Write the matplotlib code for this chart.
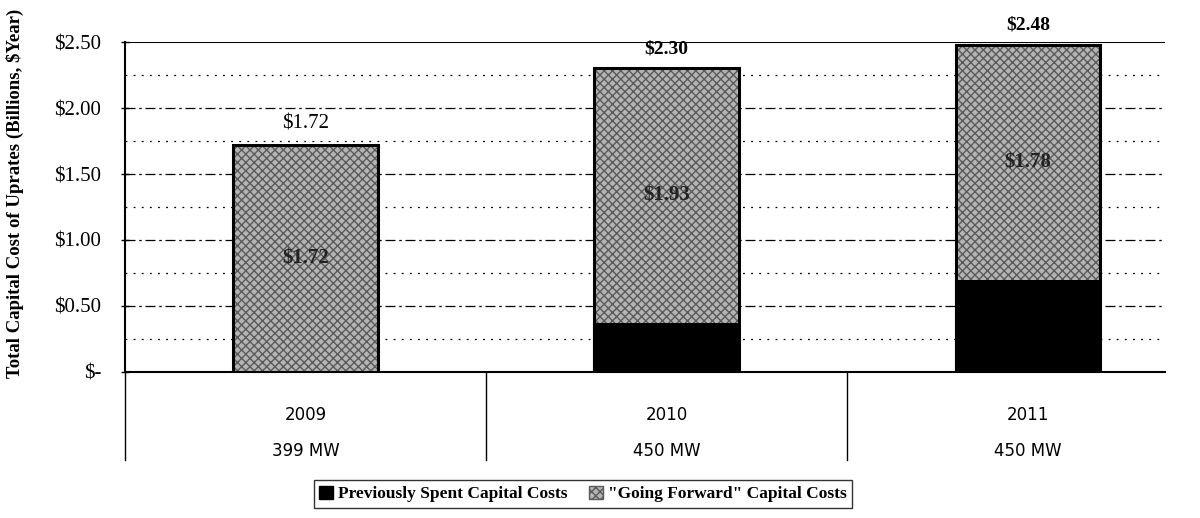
import matplotlib
matplotlib.use("Agg")
import matplotlib.pyplot as plt
from matplotlib.patches import Patch

plt.rcParams['font.family'] = ['Liberation Serif', 'DejaVu Serif']

years = ["2009", "2010", "2011"]
capacity = ["399 MW", "450 MW", "450 MW"]
spent = [0.0, 0.37, 0.70]
forward = [1.72, 1.93, 1.78]
totals = [1.72, 2.30, 2.48]
yticks = [0, 0.5, 1.0, 1.5, 2.0, 2.5]
ytick_labels = ["$-", "$0.50", "$1.00", "$1.50", "$2.00", "$2.50"]

fig = plt.figure(figsize=(12, 5.18), dpi=100)
ax = fig.add_axes([125/1200, 1-372/518, 1040/1200, 330/518])

x = list(range(len(years)))
W = 0.40
ax.bar(x, spent, W, color="black", edgecolor="black", lw=1.5, zorder=3)
ax.bar(x, forward, W, bottom=spent, color="#b4b4b4", edgecolor="#5a5a5a",
       hatch="xxxx", lw=0, zorder=3)
ax.bar(x, totals, W, fill=False, edgecolor="black", lw=2.2, zorder=4)

for xi, s, f, t in zip(x, spent, forward, totals):
    ax.text(xi, s + f/2, f"${f:.2f}", ha="center", va="center", fontsize=15,
            fontweight="bold", color="#222222", zorder=5)
    ax.annotate(f"${t:.2f}", (xi, t), xytext=(0, 8), textcoords="offset points",
                ha="center", va="bottom", fontsize=14 if xi else 15,
                fontweight="bold" if xi else "normal", annotation_clip=False)

ax.set_xlim(-0.5, 2.38)
ax.set_ylim(0, 2.5)
ax.set_yticks(yticks)
ax.set_yticklabels(ytick_labels, fontsize=15)
ax.tick_params(axis="y", direction="inout", length=6, width=1, pad=14)
ax.set_xticks([])
for v in [0.5, 1.0, 1.5, 2.0]:
    ax.axhline(v, color="black", lw=0.9, ls=(0, (8, 3, 2, 3)), zorder=1)
for v in [0.25, 0.75, 1.25, 1.75, 2.25]:
    ax.axhline(v, color="black", lw=0.9, ls=(0, (1.5, 5)), zorder=1)
ax.axhline(2.5, color="black", lw=1.5, zorder=2)
for s in ["top", "right"]:
    ax.spines[s].set_visible(False)
ax.spines["left"].set_linewidth(1.5)
ax.spines["bottom"].set_linewidth(1.5)

ax.set_ylabel("Total Capital Cost of Uprates (Billions, $Year)", fontsize=13.5,
              fontweight="bold")
ax.yaxis.set_label_coords(-0.097, 0.54)

# category table under the axis
bot = -(460-372)/330
for b in [-0.5, 0.5, 1.5]:
    ax.plot([b, b], [0, bot], transform=ax.get_xaxis_transform(), color="black",
            lw=1, clip_on=False)
for xi, yr, mw in zip(x, years, capacity):
    ax.text(xi, -(415-372)/330, yr, transform=ax.get_xaxis_transform(),
            ha="center", va="center", fontsize=12, fontfamily="DejaVu Sans")
    ax.text(xi, -(451-372)/330, mw, transform=ax.get_xaxis_transform(),
            ha="center", va="center", fontsize=12, fontfamily="DejaVu Sans")

handles = [Patch(facecolor="black", edgecolor="black", label="Previously Spent Capital Costs"),
           Patch(facecolor="#b4b4b4", edgecolor="#5a5a5a", hatch="xxxx",
                 label='"Going Forward" Capital Costs')]
leg = fig.legend(handles=handles, loc="center", bbox_to_anchor=(583/1200, 1-494/518),
                 ncol=2, frameon=True, fancybox=False, edgecolor="black",
                 prop={"weight": "bold", "size": 12.5}, handlelength=0.8,
                 handleheight=0.8, handletextpad=0.3, columnspacing=1.2,
                 borderpad=0.3)
leg.get_frame().set_linewidth(1)

fig.savefig("out.png", dpi=100)
